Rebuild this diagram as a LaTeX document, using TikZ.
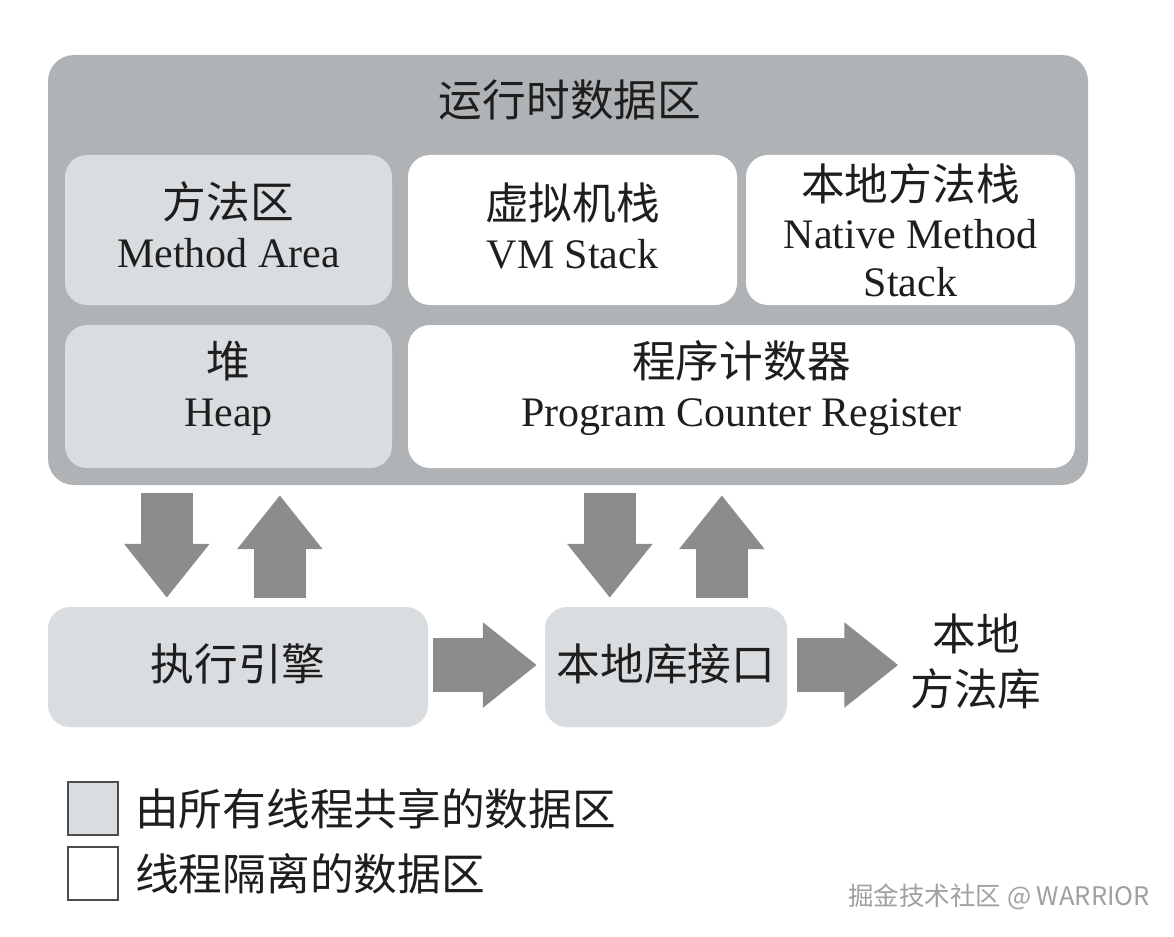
\documentclass[tikz,border=0pt]{standalone}
\usepackage{fontspec}
\setmainfont{Liberation Serif}
\newfontfamily\cjk[Scale=1.04]{Noto Sans CJK SC}
\newfontfamily\wmfont{Noto Sans CJK SC}
\usetikzlibrary{arrows.meta}
\definecolor{outergray}{RGB}{176,179,181}
\definecolor{sharedgray}{RGB}{218,221,223}
\definecolor{arrowgray}{RGB}{138,140,142}
\definecolor{txt}{RGB}{30,30,30}
\definecolor{wmgray}{RGB}{160,160,160}
\begin{document}
\begin{tikzpicture}[x=1pt,y=-1pt,
  box/.style={rounded corners=22pt, inner sep=0pt},
  shared/.style={box, fill=sharedgray},
  isolated/.style={box, fill=white},
  plain/.style={inner sep=0pt, align=center, text=txt, font=\fontsize{42}{49}\selectfont},
  vblk/.style={arrowgray, line width=52pt, -{Triangle[width=82pt,length=54pt]}},
  hblk/.style={arrowgray, line width=54pt, -{Triangle[width=82pt,length=54pt]}},
  legbox/.style={draw=black!70, line width=2.2pt, minimum width=50pt, minimum height=53pt, inner sep=0pt},
]
\useasboundingbox (0,0) rectangle (1174,936);
\fill[white] (0,0) rectangle (1174,936);

% runtime data area
\node[box, fill=outergray, rounded corners=26pt, minimum width=1040pt, minimum height=430pt] (rt) at (568,270) {};
\node[plain] (title) at (570,100) {\cjk 运行时数据区};

\node[shared, minimum width=327pt, minimum height=150pt] (ma) at (228.5,230) {};
\node[isolated, minimum width=329pt, minimum height=150pt] (vm) at (572.5,230) {};
\node[isolated, minimum width=329pt, minimum height=150pt] (nms) at (910.5,230) {};
\node[shared, minimum width=327pt, minimum height=143pt] (heap) at (228.5,396.5) {};
\node[isolated, minimum width=667pt, minimum height=143pt] (pc) at (741.5,396.5) {};

\node[plain] (mat) at ([yshift=5pt]ma.center) {{\cjk 方法区}\\Method Area};
\node[plain] (vmt) at ([yshift=4pt]vm.center) {{\cjk 虚拟机栈}\\VM Stack};
\node[plain, font=\fontsize{42}{48}\selectfont] (nmst) at ([yshift=0pt]nms.center) {{\cjk 本地方法栈}\\Native Method\\Stack};
\node[plain] (heapt) at ([yshift=8pt]heap.center) {{\cjk 堆}\\Heap};
\node[plain] (pct) at ([yshift=8pt]pc.center) {{\cjk 程序计数器}\\Program Counter Register};

% execution engine and native interface
\node[shared, minimum width=380pt, minimum height=120pt] (ee) at (238,667) {};
\node[shared, minimum width=242pt, minimum height=120pt] (nl) at (666,667) {};
\node[plain] (eet) at ([yshift=3pt]ee.center) {\cjk 执行引擎};
\node[plain] (nlt) at ([yshift=3pt]nl.center) {\cjk 本地库接口};
\node[plain, font=\fontsize{42}{55}\selectfont] (nm) at (976,662) {\cjk 本地\\\cjk 方法库};

% block arrows
\draw[vblk] ([xshift=119pt,yshift=-8pt]rt.south west) -- ([xshift=119pt,yshift=9pt]ee.north west);
\draw[vblk] ([xshift=232pt,yshift=9pt]ee.north west) -- ([xshift=232pt,yshift=-10pt]rt.south west);
\draw[vblk] ([xshift=562pt,yshift=-8pt]rt.south west) -- ([xshift=65pt,yshift=9pt]nl.north west);
\draw[vblk] ([xshift=177pt,yshift=9pt]nl.north west) -- ([xshift=674pt,yshift=-10pt]rt.south west);
\draw[hblk] ([xshift=5pt,yshift=2pt]ee.east) -- ([xshift=-8pt,yshift=2pt]nl.west);
\draw[hblk] ([xshift=10pt,yshift=2pt]nl.east) -- ([xshift=-12pt,yshift=-3pt]nm.west);

% legend
\node[legbox, fill=sharedgray] (sq1) at (93,808.5) {};
\node[legbox, fill=white] (sq2) at (93,873.5) {};
\node[plain, anchor=west] (leg1) at ([xshift=16pt]sq1.east) {\cjk 由所有线程共享的数据区};
\node[plain, anchor=west] (leg2) at ([xshift=16pt]sq2.east) {\cjk 线程隔离的数据区};

% watermark
\node[inner sep=0pt, anchor=east, text=wmgray, font=\fontsize{25.5}{28}\selectfont] (wm) at (1150,897) {\wmfont 掘金技术社区 @ WARRIOR};
\end{tikzpicture}
\end{document}
